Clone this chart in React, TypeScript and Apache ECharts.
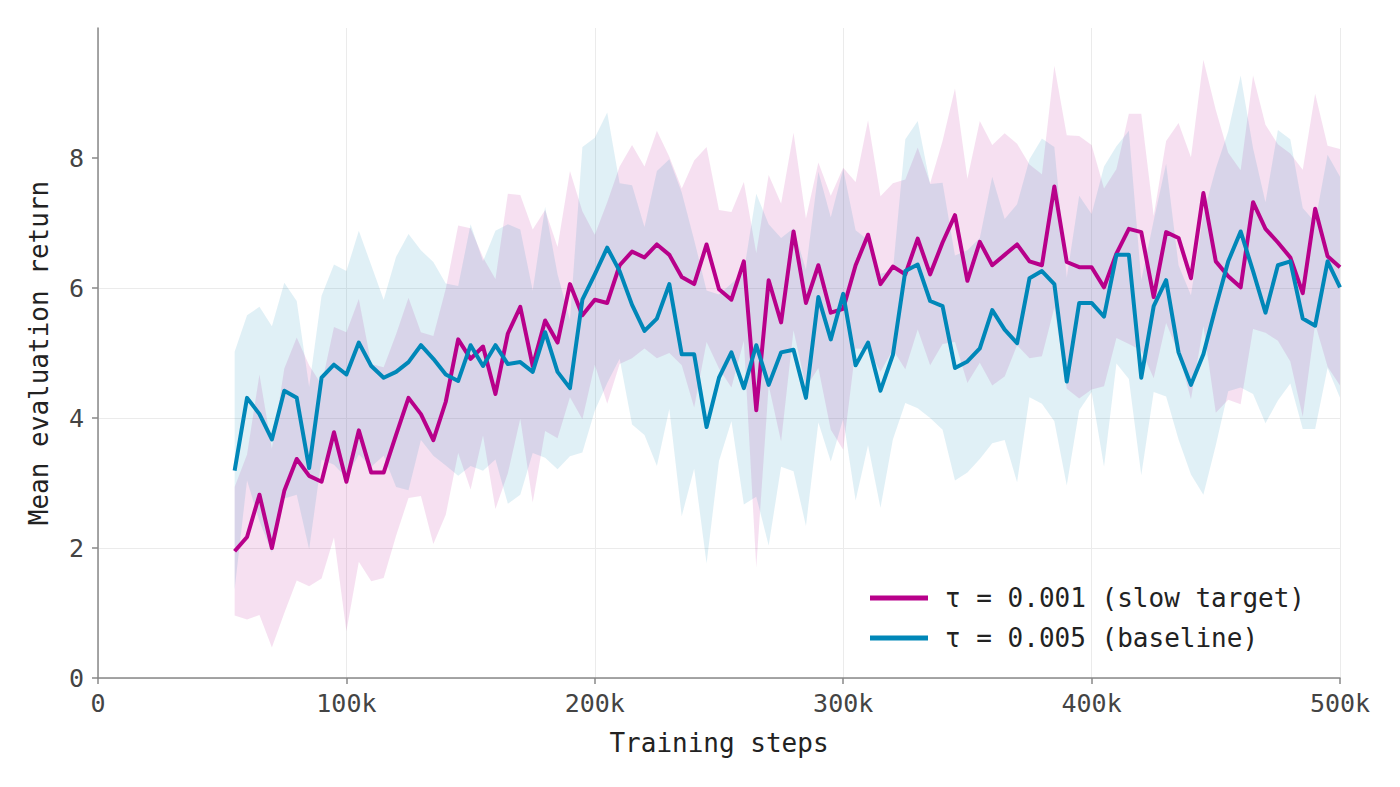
import React, { useEffect, useRef } from "react";
import * as echarts from "echarts";

// Training steps (thousands)
const stepsK = [
  55, 60, 65, 70, 75, 80, 85, 90, 95, 100, 105, 110, 115, 120, 125, 130, 135, 140, 145, 150,
  155, 160, 165, 170, 175, 180, 185, 190, 195, 200, 205, 210, 215, 220, 225, 230, 235, 240, 245, 250,
  255, 260, 265, 270, 275, 280, 285, 290, 295, 300, 305, 310, 315, 320, 325, 330, 335, 340, 345, 350,
  355, 360, 365, 370, 375, 380, 385, 390, 395, 400, 405, 410, 415, 420, 425, 430, 435, 440, 445, 450,
  455, 460, 465, 470, 475, 480, 485, 490, 495, 500,
];

// tau = 0.001 (slow target)
const slowMean = [
  1.95, 2.17, 2.82, 2.0, 2.88, 3.37, 3.11, 3.02, 3.78, 3.02, 3.81, 3.16, 3.16, 3.74, 4.31, 4.06, 3.66, 4.25, 5.21, 4.91,
  5.1, 4.37, 5.3, 5.71, 4.8, 5.5, 5.16, 6.06, 5.58, 5.82, 5.77, 6.35, 6.56, 6.47, 6.67, 6.51, 6.17, 6.06, 6.67, 5.98,
  5.82, 6.41, 4.12, 6.12, 5.47, 6.87, 5.77, 6.35, 5.62, 5.68, 6.35, 6.82, 6.06, 6.33, 6.21, 6.76, 6.21, 6.7, 7.12, 6.11,
  6.71, 6.35, 6.51, 6.67, 6.41, 6.35, 7.56, 6.4, 6.32, 6.32, 6.01, 6.53, 6.91, 6.86, 5.86, 6.86, 6.77, 6.15, 7.46, 6.41,
  6.18, 6.01, 7.32, 6.91, 6.7, 6.47, 5.92, 7.22, 6.49, 6.32,
];
const slowStd = [
  0.99, 1.27, 1.85, 1.53, 1.88, 1.87, 1.7, 1.49, 1.62, 2.3, 2.02, 1.67, 1.62, 1.55, 1.54, 1.26, 1.6, 1.74, 1.75, 2.01,
  1.37, 1.77, 2.15, 1.72, 2.1, 1.7, 1.47, 1.74, 1.6, 1.0, 1.55, 1.52, 1.64, 1.4, 1.75, 1.51, 1.36, 1.9, 1.5, 1.22,
  1.35, 1.22, 2.42, 1.62, 1.83, 1.52, 1.3, 1.58, 1.8, 2.17, 1.28, 1.76, 1.35, 1.28, 1.46, 1.4, 1.4, 1.56, 1.95, 1.57,
  1.86, 1.85, 1.87, 1.55, 1.49, 1.4, 1.86, 1.95, 2.02, 1.88, 1.52, 1.3, 1.77, 1.82, 1.25, 1.4, 1.77, 1.86, 2.05, 2.33,
  1.9, 1.8, 1.95, 1.6, 1.51, 1.6, 1.9, 1.77, 1.7, 1.82,
];

// tau = 0.005 (baseline)
const baseMean = [
  3.19, 4.31, 4.06, 3.67, 4.42, 4.31, 3.23, 4.62, 4.82, 4.67, 5.16, 4.8, 4.62, 4.71, 4.86, 5.12, 4.91, 4.67, 4.57, 5.12,
  4.8, 5.12, 4.83, 4.86, 4.71, 5.32, 4.71, 4.46, 5.82, 6.21, 6.62, 6.26, 5.74, 5.34, 5.53, 6.06, 4.98, 4.98, 3.86, 4.62,
  5.01, 4.46, 5.12, 4.51, 5.01, 5.05, 4.31, 5.86, 5.21, 5.91, 4.81, 5.16, 4.42, 4.97, 6.26, 6.36, 5.8, 5.72, 4.77, 4.87,
  5.07, 5.66, 5.36, 5.15, 6.15, 6.26, 6.06, 4.56, 5.77, 5.77, 5.56, 6.51, 6.51, 4.62, 5.72, 6.12, 5.01, 4.51, 4.98, 5.71,
  6.41, 6.87, 6.26, 5.62, 6.35, 6.41, 5.53, 5.42, 6.41, 6.01,
];
const baseStd = [
  1.83, 1.27, 1.65, 1.74, 1.66, 1.49, 1.25, 1.26, 1.54, 1.59, 1.72, 1.55, 1.2, 1.77, 1.97, 1.46, 1.49, 1.4, 1.46, 1.86,
  1.61, 1.76, 2.15, 2.04, 1.25, 1.93, 1.5, 1.05, 2.35, 2.1, 2.08, 1.35, 1.84, 1.6, 2.27, 1.92, 2.49, 1.76, 2.1, 1.28,
  1.06, 1.79, 2.33, 2.47, 1.76, 1.87, 1.97, 1.93, 1.88, 1.92, 2.08, 1.58, 1.8, 1.3, 2.03, 2.21, 1.8, 1.9, 1.73, 1.71,
  1.7, 2.05, 1.7, 2.14, 1.83, 2.04, 2.11, 1.6, 1.65, 1.37, 2.31, 1.67, 1.91, 1.5, 1.32, 1.79, 1.34, 1.38, 2.16, 2.13,
  2.0, 2.4, 1.89, 1.7, 2.08, 1.88, 1.7, 1.59, 1.64, 1.7,
];

const yTicks = [0, 2, 4, 6, 8];
const seriesNames = ["τ = 0.001 (slow target)", "τ = 0.005 (baseline)"];

const MAGENTA = "#b8008a";
const BLUE = "#0087b8";
const FONT = "'DejaVu Sans Mono', 'Liberation Mono', monospace";

export default function App() {
  const ref = useRef<HTMLDivElement>(null);

  useEffect(() => {
    if (!ref.current) return;
    const chart = echarts.init(ref.current, null, { renderer: "svg" });

    const xs = stepsK.map((k) => k * 1000);

    const band = (mean: number[], std: number[], key: string, color: string) => {
      const rows = xs.map((x, i) => [x, mean[i] - std[i], mean[i] + std[i]]);
      return {
        type: "custom",
        name: key,
        silent: true,
        z: 1,
        data: rows,
        encode: { x: 0, y: [1, 2] },
        renderItem: (params: any, api: any) => {
          if (params.dataIndex !== 0) return null;
          const upper = rows.map((r) => api.coord([r[0], r[2]]));
          const lower = rows.map((r) => api.coord([r[0], r[1]])).reverse();
          return {
            type: "polygon",
            shape: { points: upper.concat(lower) },
            style: { fill: color, stroke: "none" },
          };
        },
      };
    };

    chart.setOption({
      animation: false,
      backgroundColor: "#ffffff",
      textStyle: { fontFamily: FONT },
      grid: { left: 98, right: 60, top: 28, bottom: 109, containLabel: false },
      legend: {
        data: seriesNames,
        orient: "vertical",
        left: 870,
        top: 585,
        padding: 0,
        icon: "rect",
        itemWidth: 58,
        itemHeight: 5,
        itemGap: 14,
        textStyle: { fontFamily: FONT, fontSize: 26, color: "#222", padding: [0, 0, 0, 12] },
      },
      xAxis: {
        type: "value",
        min: 0,
        max: 500000,
        interval: 100000,
        name: "Training steps",
        nameLocation: "middle",
        nameGap: 52,
        nameTextStyle: { fontFamily: FONT, fontSize: 26, color: "#222" },
        axisLine: { show: true, lineStyle: { color: "#888", width: 1.5 } },
        axisTick: { show: true, length: 6, lineStyle: { color: "#888", width: 1.5 } },
        axisLabel: {
          fontFamily: FONT,
          fontSize: 25,
          color: "#444",
          margin: 13,
          formatter: (v: number) => (v === 0 ? "0" : v / 1000 + "k"),
        },
        splitLine: { show: true, lineStyle: { color: "#ebebeb", width: 1 } },
      },
      yAxis: {
        type: "value",
        min: 0,
        max: 10,
        interval: 2,
        name: "Mean evaluation return",
        nameLocation: "middle",
        nameGap: 46,
        nameRotate: 90,
        nameTextStyle: { fontFamily: FONT, fontSize: 26, color: "#222" },
        axisLine: { show: true, lineStyle: { color: "#888", width: 1.5 } },
        axisTick: { show: true, length: 6, customValues: yTicks, lineStyle: { color: "#888", width: 1.5 } },
        axisLabel: {
          fontFamily: FONT,
          fontSize: 25,
          color: "#444",
          margin: 14,
          customValues: yTicks,
        },
        splitLine: { show: true, showMaxLine: false, lineStyle: { color: "#ebebeb", width: 1 } },
      },
      series: [
        band(slowMean, slowStd, "slow-band", "rgba(184,0,138,0.12)"),
        band(baseMean, baseStd, "base-band", "rgba(0,135,184,0.12)"),
        {
          type: "line",
          name: seriesNames[0],
          data: xs.map((x, i) => [x, slowMean[i]]),
          symbol: "none",
          color: MAGENTA,
          lineStyle: { color: MAGENTA, width: 4, join: "round" },
          z: 3,
        },
        {
          type: "line",
          name: seriesNames[1],
          data: xs.map((x, i) => [x, baseMean[i]]),
          symbol: "none",
          color: BLUE,
          lineStyle: { color: BLUE, width: 4, join: "round" },
          z: 4,
        },
      ],
    });

    return () => chart.dispose();
  }, []);

  return (
    <div
      ref={ref}
      style={{ position: "absolute", left: 0, top: 0, width: 1400, height: 787, background: "#fff" }}
    />
  );
}
